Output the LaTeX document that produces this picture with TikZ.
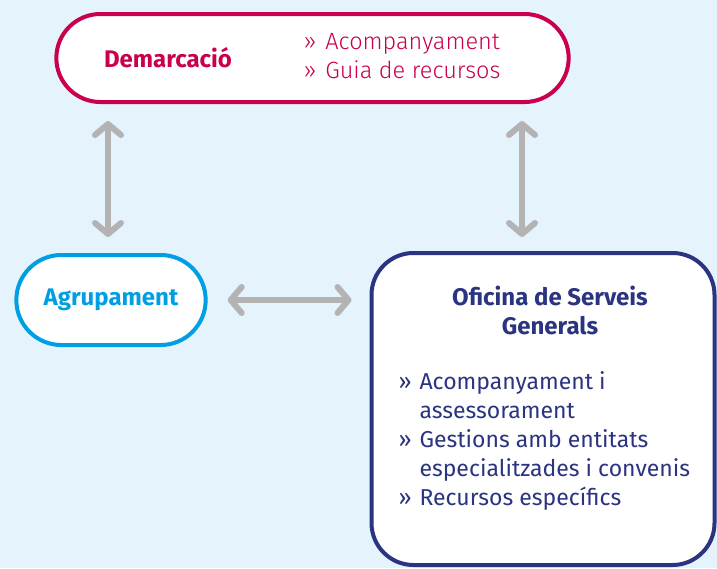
\documentclass[tikz,border=0pt]{standalone}
\usepackage{fontspec}
\setmainfont{Fira Sans}
\newfontfamily\lightfont{Fira Sans Light}
\usetikzlibrary{arrows.meta,shapes.misc}

\definecolor{bgblue}{HTML}{E5F3FC}
\definecolor{demred}{HTML}{C8004E}
\definecolor{agrcyan}{HTML}{009FE3}
\definecolor{osgnavy}{HTML}{2B3481}
\definecolor{linkgray}{HTML}{B3B3B3}

\tikzset{
  pill/.style={rounded rectangle, draw, fill=white, line width=4pt},
  panel/.style={rectangle, rounded corners=42pt, draw, fill=white, line width=4pt},
  link/.style={draw=linkgray, line width=6pt, line cap=round,
    {Straight Barb[length=11pt,width=26pt,round]}-{Straight Barb[length=11pt,width=26pt,round]}},
  bigtxt/.style={font=\fontsize{23}{29}\selectfont},
  headtxt/.style={font=\bfseries\fontsize{24}{29}\selectfont}
}

\begin{document}
\begin{tikzpicture}[x=1pt,y=-1pt]
% background
\fill[bgblue] (0,0) rectangle (717,568);
\useasboundingbox (0,0) rectangle (717,568);

% boxes
\node[pill, draw=demred, minimum width=519pt, minimum height=88pt] (dem) at (312.5,58) {};
\node[pill, draw=agrcyan, minimum width=196pt, minimum height=90pt] (agr) at (111,300) {};
\node[panel, draw=osgnavy, minimum width=343pt, minimum height=312pt] (osg) at (543,409) {};

% texts
\node[headtxt, text=demred] (demtitle) at (168,58) {Demarcació};
\node[anchor=west, text=demred, font=\lightfont\fontsize{23.5}{29}\selectfont] (demitems) at (300,58)
  {\begin{tabular}{@{}l@{\hspace{9pt}}l@{}}
   » & Acompanyament\\
   » & Guia de recursos
   \end{tabular}};
\node[headtxt, text=agrcyan] (agrtitle) at (agr) {Agrupament};
\node[headtxt, text=osgnavy, align=center] (osgtitle) at (550,310) {Oficina de Serveis\\Generals};
\node[bigtxt, text=osgnavy, anchor=north west] (osgitems) at (395,366)
  {\begin{tabular}{@{}l@{\hspace{8pt}}l@{}}
   » & Acompanyament i\\
     & assessorament\\
   » & Gestions amb entitats\\
     & especialitzades i convenis\\
   » & Recursos específics
   \end{tabular}};

% links
\coordinate (osgtop) at ([xshift=-21pt]osg.north);
\coordinate (agrtop) at ([xshift=-3pt]agr.north);
\draw[link, shorten <=17pt, shorten >=16pt] (agrtop |- dem.south) -- (agrtop);
\draw[link, shorten <=17pt, shorten >=14pt] (osgtop |- dem.south) -- (osgtop);
\draw[link, shorten <=20pt, shorten >=18pt] (agr.east) -- (agr.east -| osg.west);

\end{tikzpicture}
\end{document}
